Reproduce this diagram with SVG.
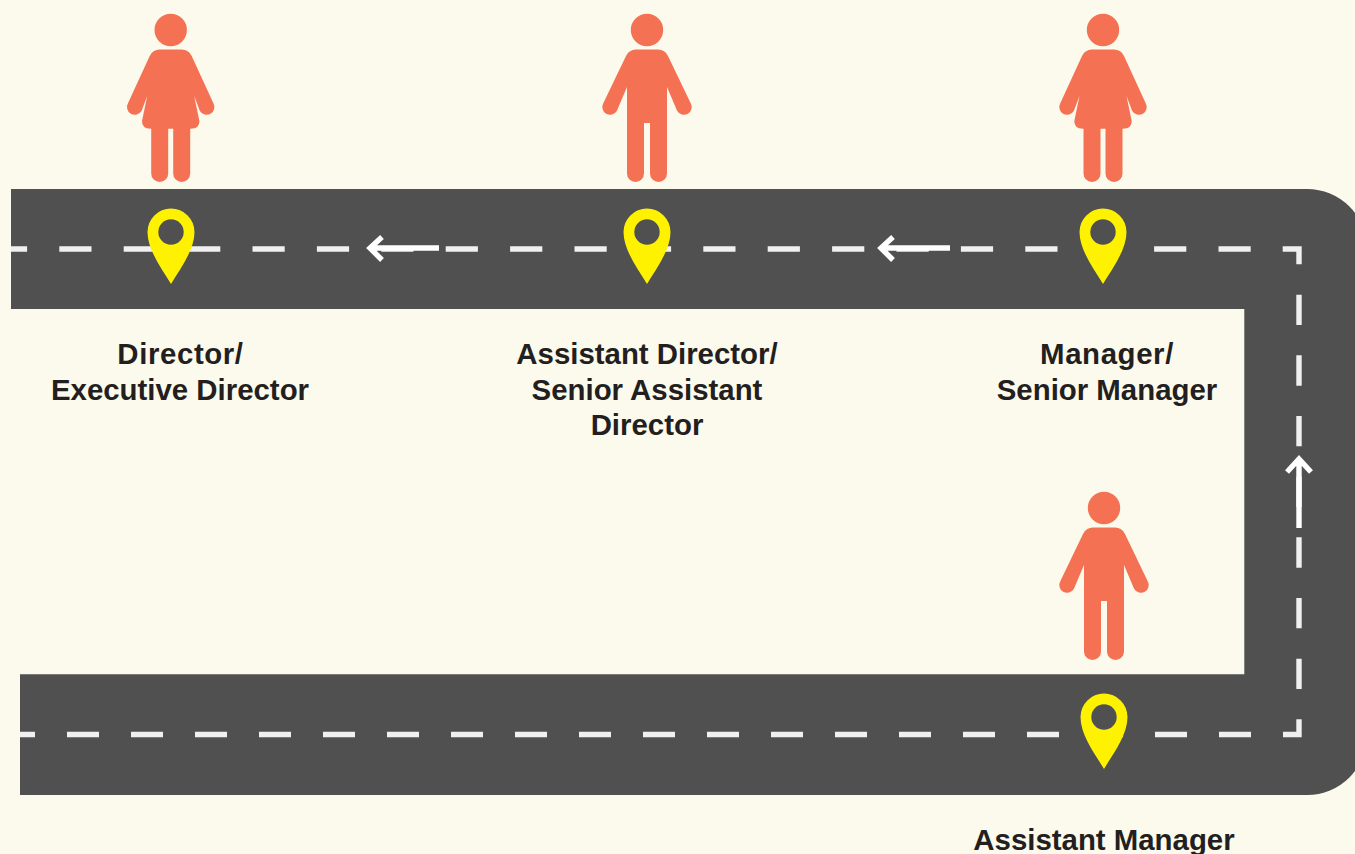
<svg xmlns="http://www.w3.org/2000/svg" width="1355" height="854" viewBox="0 0 1355 854">
<style>
.lbl{font-family:"Liberation Sans",Arial,sans-serif;font-weight:700;font-size:29.4px;fill:#231f20;text-anchor:middle}
.wide{letter-spacing:.6px}
.person{fill:#f47253}
.pin{fill:#fff200;fill-rule:evenodd}
.dash{fill:none;stroke:#f0f0f0;stroke-width:5.4}
.arrow{fill:none;stroke:#fff;stroke-width:5.4}
</style>
<defs>
<g id="woman">
<circle cx="0" cy="30" r="16.2"/>
<path d="M-11,49.5H11Q18,49.5 21,56L42.6,103A7.6,7.6 0 0 1 29.2,111L23.5,96L28.7,121Q29,128.5 20,128.8H19.5V173.5A8.5,8.5 0 0 1 2.5,173.5V128.8H-2.5V173.5A8.5,8.5 0 0 1 -19.5,173.5V128.8H-20Q-29,128.5 -28.7,121L-23.5,96L-29.2,111A7.6,7.6 0 0 1 -42.6,103L-21,56Q-18,49.5 -11,49.5Z"/>
</g>
<g id="man">
<circle cx="0" cy="30" r="16.2"/>
<path d="M-11,49.5H11Q18,49.5 21,56L43.6,103A7.6,7.6 0 0 1 30.2,111L20,87V173.5A8.5,8.5 0 0 1 3,173.5V123H-3V173.5A8.5,8.5 0 0 1 -20,173.5V87L-30.2,111A7.6,7.6 0 0 1 -43.6,103L-21,56Q-18,49.5 -11,49.5Z"/>
</g>
<path id="pinshape" d="M0,52C-9,37 -23.5,18 -23.5,0A23.5,23.5 0 0 1 23.5,0C23.5,18 9,37 0,52ZM0,-12.7A12.7,12.7 0 1 0 0,12.7A12.7,12.7 0 1 0 0,-12.7Z"/>
</defs>
<rect width="1355" height="854" fill="#fcfaec"/>
<g id="road">
<path d="M11,189H1307A60,60 0 0 1 1367,249V735A60,60 0 0 1 1307,795H20V674.3H1244.3V309H11Z" fill="#505050"/>
</g>
<g id="connectors">
<path class="dash" d="M1250.7,249H11" stroke-dasharray="32.2 32.2"/>
<path class="dash" d="M1282.7,249H1299V264.3"/>
<path class="dash" d="M1299,689V294.7" stroke-dasharray="30.33 30.33"/>
<path class="dash" d="M1299,719.3V734.5H1283"/>
<path class="dash" d="M1251,734.5H20" stroke-dasharray="32 32"/>
<path class="arrow" d="M439,248H370M382,237L370,248L382,260"/>
<path class="arrow" d="M950,248H881M893,237L881,248L893,260"/>
<path class="arrow" d="M1299,528V459M1287,472L1299,459L1311,472"/>
</g>
<g id="node-director">
<use href="#woman" x="170.7" class="person"/>
<use href="#pinshape" x="171" y="232" class="pin"/>
<text class="lbl wide" x="180.5" y="364">Director/</text>
<text class="lbl" x="180" y="400">Executive Director</text>
</g>
<g id="node-assistant-director">
<use href="#man" x="647" class="person"/>
<use href="#pinshape" x="647" y="232" class="pin"/>
<text class="lbl" x="647" y="364">Assistant Director/</text>
<text class="lbl" x="647" y="400">Senior Assistant</text>
<text class="lbl" x="647" y="434.5">Director</text>
</g>
<g id="node-manager">
<use href="#woman" x="1103" class="person"/>
<use href="#pinshape" x="1103" y="232" class="pin"/>
<text class="lbl wide" x="1107" y="364">Manager/</text>
<text class="lbl" x="1107" y="400">Senior Manager</text>
</g>
<g id="node-assistant-manager">
<use href="#man" x="1104" y="478" class="person"/>
<use href="#pinshape" x="1104" y="717" class="pin"/>
<text class="lbl" x="1104" y="850">Assistant Manager</text>
</g>
</svg>
